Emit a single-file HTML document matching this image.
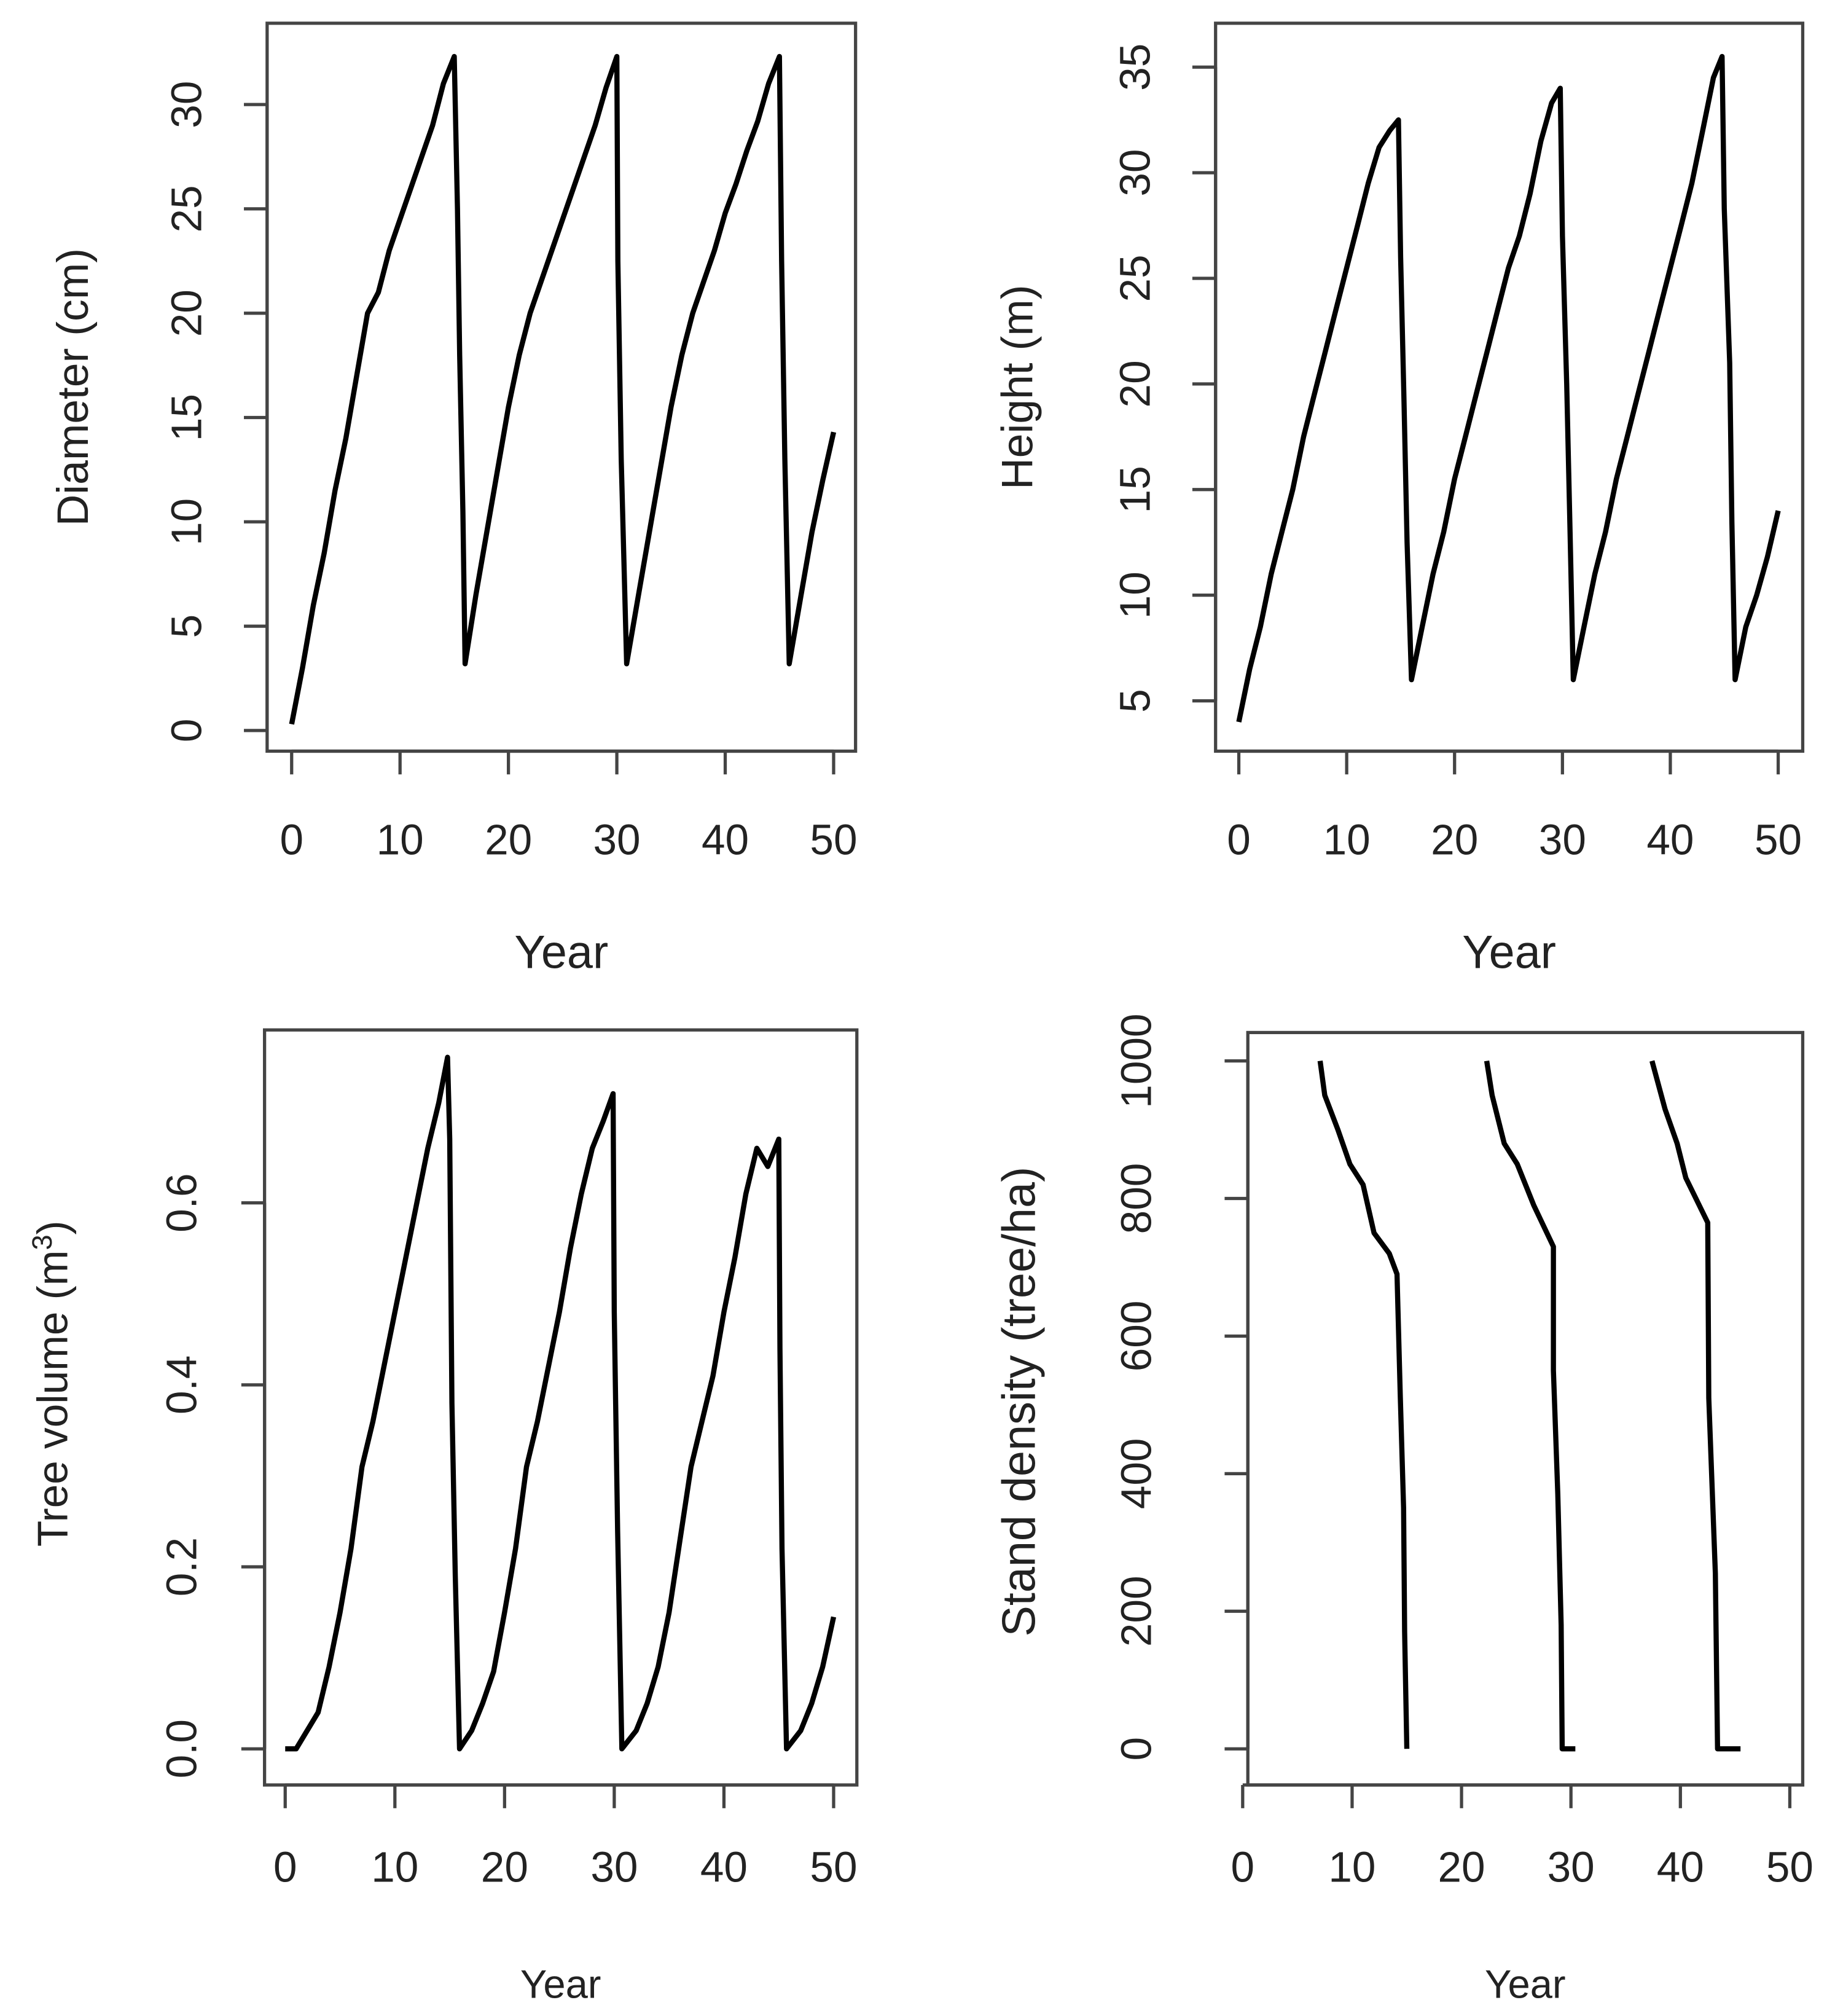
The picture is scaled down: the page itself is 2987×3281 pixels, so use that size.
<!DOCTYPE html>
<html><head><meta charset="utf-8"><style>
html,body{margin:0;padding:0;background:#fff}
svg{display:block}
text{font-family:"Liberation Sans",Arial,sans-serif;fill:#222}
</style></head><body>
<svg id="fig" width="2987" height="3281" viewBox="0 0 1422 1562" xmlns="http://www.w3.org/2000/svg"></svg>
<script>
// ---- Data ----
const diamYears=[0,1,2,3,4,5,6,7,8,9,10,11,12,13,14,15,15.3,15.5,15.8,16,17,18,19,20,21,22,23,24,25,26,27,28,29,30,30.1,30.4,30.9,32,33,34,35,36,37,38,39,40,41,42,43,44,45,45.2,45.5,45.9,47,48,49,50];
const diamValues=[0.3,3,6,8.5,11.5,14,17,20,21,23,24.5,26,27.5,29,31,32.3,25,18,10.5,3.2,6.5,9.5,12.5,15.5,18,20,21.5,23,24.5,26,27.5,29,30.8,32.3,22.5,13,3.2,6.5,9.5,12.5,15.5,18,20,21.5,23,24.8,26.2,27.8,29.2,31,32.3,22.5,13,3.2,6.5,9.5,12,14.3];
const heightYears=[0,1,2,3,4,5,6,7,8,9,10,11,12,13,14,14.8,15,15.3,15.6,16,17,18,19,20,21,22,23,24,25,26,27,28,29,29.8,30,30.4,30.7,31,32,33,34,35,36,37,38,39,40,41,42,43,44,44.8,45,45.5,45.7,46,47,48,49,50];
const heightValues=[4,6.5,8.5,11,13,15,17.5,19.5,21.5,23.5,25.5,27.5,29.5,31.2,32,32.5,26,19.5,12.5,6,8.5,11,13,15.5,17.5,19.5,21.5,23.5,25.5,27,29,31.5,33.3,34,27,20,13,6,8.5,11,13,15.5,17.5,19.5,21.5,23.5,25.5,27.5,29.5,32,34.5,35.5,28.3,21,13.5,6,8.5,10,11.8,14];
const volYears=[0,1,2,3,4,5,6,7,8,9,10,11,12,13,14,14.8,15,15.2,15.5,15.9,17,18,19,20,21,22,23,24,25,26,27,28,29,29.9,30,30.3,30.7,32,33,34,35,36,37,38,39,40,41,42,43,44,45,45.1,45.3,45.7,47,48,49,50];
const volValues=[0,0,0.02,0.04,0.09,0.15,0.22,0.31,0.36,0.42,0.48,0.54,0.6,0.66,0.71,0.76,0.67,0.38,0.19,0,0.02,0.05,0.085,0.15,0.22,0.31,0.36,0.42,0.48,0.55,0.61,0.66,0.69,0.72,0.48,0.24,0,0.02,0.05,0.09,0.15,0.23,0.31,0.36,0.41,0.48,0.54,0.61,0.66,0.64,0.67,0.44,0.22,0,0.02,0.05,0.09,0.145];
const densYears1=[7.07,7.5,8.7,9.8,11,12,13.4,14.1,14.4,14.7,14.8,15];
const densValues1=[1000,950,900,850,820,750,720,690,515,350,170,0];
const densYears2=[22.3,22.8,23.9,25.1,26.6,28.4,28.4,28.8,29.1,29.2,30.4];
const densValues2=[1000,950,880,850,790,730,550,370,180,0,0];
const densYears3=[37.4,38.6,39.7,40.5,42.5,42.6,43.2,43.4,45.5];
const densValues3=[1000,930,880,830,765,510,255,0,0];
const xTicks=[0,10,20,30,40,50];
const diamTicks=[0,5,10,15,20,25,30];
const heightTicks=[5,10,15,20,25,30,35];
const volTicks=[0,0.2,0.4,0.6];
const volTickLabels=["0.0","0.2","0.4","0.6"];
const densTicks=[0,200,400,600,800,1000];

const NS="http://www.w3.org/2000/svg";
const svg=document.getElementById('fig');
function mk(tag,attrs,parent){const e=document.createElementNS(NS,tag);for(const k in attrs)e.setAttribute(k,attrs[k]);(parent||svg).appendChild(e);return e;}

function panel(cfg){
  const g=mk('g',{});
  
  
  const xs=v=>cfg.x0+(v-0)*(cfg.x50-cfg.x0)/50;
  const ys=v=>cfg.yA+(v-cfg.vA)*(cfg.yB-cfg.yA)/(cfg.vB-cfg.vA);
  const box=mk('rect',{x:cfg.bx1,y:cfg.by1,width:cfg.bx2-cfg.bx1,height:cfg.by2-cfg.by1,fill:'none',stroke:'#444','stroke-width':2.5},g);
  
  
  const xa=mk('g',{},g);
  
  
  mk('line',{x1:xs(0),x2:xs(50),y1:cfg.by2,y2:cfg.by2,stroke:'#444','stroke-width':2.5},xa);
  xTicks.forEach(t=>{
    mk('line',{x1:xs(t),x2:xs(t),y1:cfg.by2,y2:cfg.by2+18,stroke:'#444','stroke-width':2.5},xa);
    const tx=mk('text',{x:xs(t),y:cfg.xlabY,'font-size':33,'text-anchor':'middle'},xa);
    tx.textContent=t;
    
    
  });
  const xt=mk('text',{x:(cfg.bx1+cfg.bx2)/2,y:cfg.xTitleY,'font-size':cfg.xTitleSize,'text-anchor':'middle'},g);
  xt.textContent='Year';
  
  
  const ya=mk('g',{},g);
  
  
  mk('line',{x1:cfg.bx1,x2:cfg.bx1,y1:ys(cfg.ticks[0]),y2:ys(cfg.ticks[cfg.ticks.length-1]),stroke:'#444','stroke-width':2.5},ya);
  cfg.ticks.forEach((t,i)=>{
    const y=ys(t);
    mk('line',{x1:cfg.bx1-18,x2:cfg.bx1,y1:y,y2:y,stroke:'#444','stroke-width':2.5},ya);
    const tx=mk('text',{x:0,y:0,'font-size':33,'text-anchor':'middle',transform:`translate(${cfg.ylabX},${y}) rotate(-90)`},ya);
    tx.textContent=cfg.tickLabels?cfg.tickLabels[i]:t;
    
    
  });
  const yt=mk('text',{x:0,y:0,'font-size':cfg.yTitleSize,'text-anchor':'middle',transform:`translate(${cfg.yTitleX},${cfg.yTitleY}) rotate(-90)`},g);
  yt.textContent=cfg.yTitle;
  if(cfg.sup){const s=mk('tspan',{'font-size':cfg.yTitleSize*0.65,dy:-12},yt);s.textContent='3';const c=mk('tspan',{dy:12},yt);c.textContent=')';}
  
  
  cfg.series.forEach((s,k)=>{
    const d=s[0].map((v,i)=>(i?'L':'M')+xs(v).toFixed(1)+','+ys(s[1][i]).toFixed(1)).join(' ');
    const p=mk('path',{d:d,fill:'none',stroke:'#000','stroke-width':4,'stroke-linejoin':'round'},g);
    
    
  });
}

panel({name:'diameter-panel',bx1:207,bx2:663,by1:18,by2:582,x0:226,x50:646,vA:0,yA:566,vB:30,yB:81,
  ticks:diamTicks,ylabX:156,xlabY:662,xTitleY:750,xTitleSize:36,yTitle:'Diameter (cm)',yTitleX:68,yTitleY:300,yTitleSize:34,
  series:[[diamYears,diamValues]]});
panel({name:'height-panel',bx1:942,bx2:1397,by1:18,by2:582,x0:960,x50:1378,vA:5,yA:543,vB:35,yB:52,
  ticks:heightTicks,ylabX:891,xlabY:662,xTitleY:750,xTitleSize:36,yTitle:'Height (m)',yTitleX:800,yTitleY:300,yTitleSize:34,
  series:[[heightYears,heightValues]]});
panel({name:'volume-panel',bx1:205,bx2:664,by1:798,by2:1383,x0:221,x50:646,vA:0,yA:1355,vB:0.6,yB:932,
  ticks:volTicks,tickLabels:volTickLabels,ylabX:152,xlabY:1458,xTitleY:1548,xTitleSize:31,yTitle:'Tree volume (m',sup:true,yTitleX:52,yTitleY:1072,yTitleSize:33,
  series:[[volYears,volValues]]});
panel({name:'density-panel',bx1:967,bx2:1397,by1:800,by2:1383,x0:963,x50:1387,vA:0,yA:1355,vB:1000,yB:822,
  ticks:densTicks,ylabX:892,xlabY:1458,xTitleY:1548,xTitleSize:31,yTitle:'Stand density (tree/ha)',yTitleX:802,yTitleY:1086,yTitleSize:36,
  series:[[densYears1,densValues1],[densYears2,densValues2],[densYears3,densValues3]]});
</script>
</body></html>
